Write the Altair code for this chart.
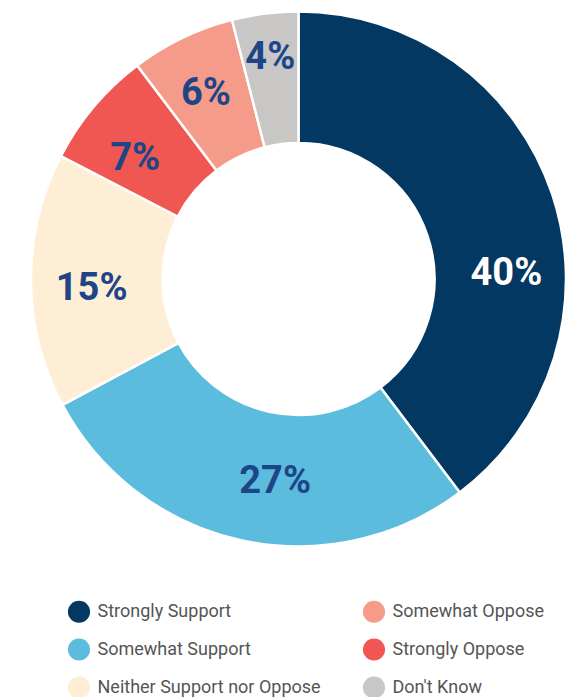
import altair as alt
import pandas as pd

categories = ["Strongly Support", "Somewhat Support", "Neither Support nor Oppose",
              "Strongly Oppose", "Somewhat Oppose", "Don't Know"]
values = [39.7, 27.5, 15.4, 7.1, 6.3, 4.0]
labels = ["40%", "27%", "15%", "7%", "6%", "4%"]
colors = ["#023861", "#5bbcde", "#feeed5", "#f05652", "#f59b8a", "#c8c7c6"]

# legend fills column by column (2 columns x 3 rows)
legend_order = ["Strongly Support", "Somewhat Support", "Neither Support nor Oppose",
                "Somewhat Oppose", "Strongly Oppose", "Don't Know"]
legend_colors = [colors[categories.index(c)] for c in legend_order]

df = pd.DataFrame({
    "category": categories,
    "value": values,
    "label": labels,
    "idx": list(range(len(categories))),
})

FONT = "Roboto"
cx, cy = 290.5, 271

base = alt.Chart(df).encode(
    theta=alt.Theta("value:Q", stack=True),
    order=alt.Order("idx:Q", sort="ascending"),
    x=alt.value(cx),
    y=alt.value(cy),
)

arcs = base.mark_arc(outerRadius=267.5, innerRadius=136, stroke="white", strokeWidth=2.5).encode(
    color=alt.Color(
        "category:N",
        scale=alt.Scale(domain=legend_order, range=legend_colors),
        legend=alt.Legend(
            title=None,
            orient="none",
            legendX=59.5,
            legendY=592,
            columns=2,
            columnPadding=41,
            rowPadding=15,
            symbolType="circle",
            symbolSize=490,
            symbolStrokeWidth=0,
            labelFont=FONT,
            labelFontSize=18,
            labelColor="#555555",
            labelOffset=7,
            labelLimit=400,
        ),
    ),
)


def label_layer(cat, radius, theta_offset, color):
    return base.mark_text(
        radius=radius, thetaOffset=theta_offset, dy=2,
        font=FONT, fontWeight="bold", fontSize=38
    ).encode(
        text=alt.condition(alt.datum.category == cat, alt.Text("label:N"), alt.value("")),
        color=alt.value(color),
    )


LBL = "#1d4587"
text_layers = [
    label_layer("Strongly Support", 208, 0.29, "white"),
    label_layer("Somewhat Support", 202, -0.101, LBL),
    label_layer("Neither Support nor Oppose", 207, -0.032, LBL),
    label_layer("Strongly Oppose", 204, -0.058, LBL),
    label_layer("Somewhat Oppose", 209, -0.01, LBL),
    label_layer("Don't Know", 225, 0.0, LBL),
]

chart = alt.layer(arcs, *text_layers).properties(
    width=557, height=689, padding=0, autosize="none"
).configure_view(stroke=None)

chart.save("out.html", embed_options={"renderer": "svg", "actions": False})
